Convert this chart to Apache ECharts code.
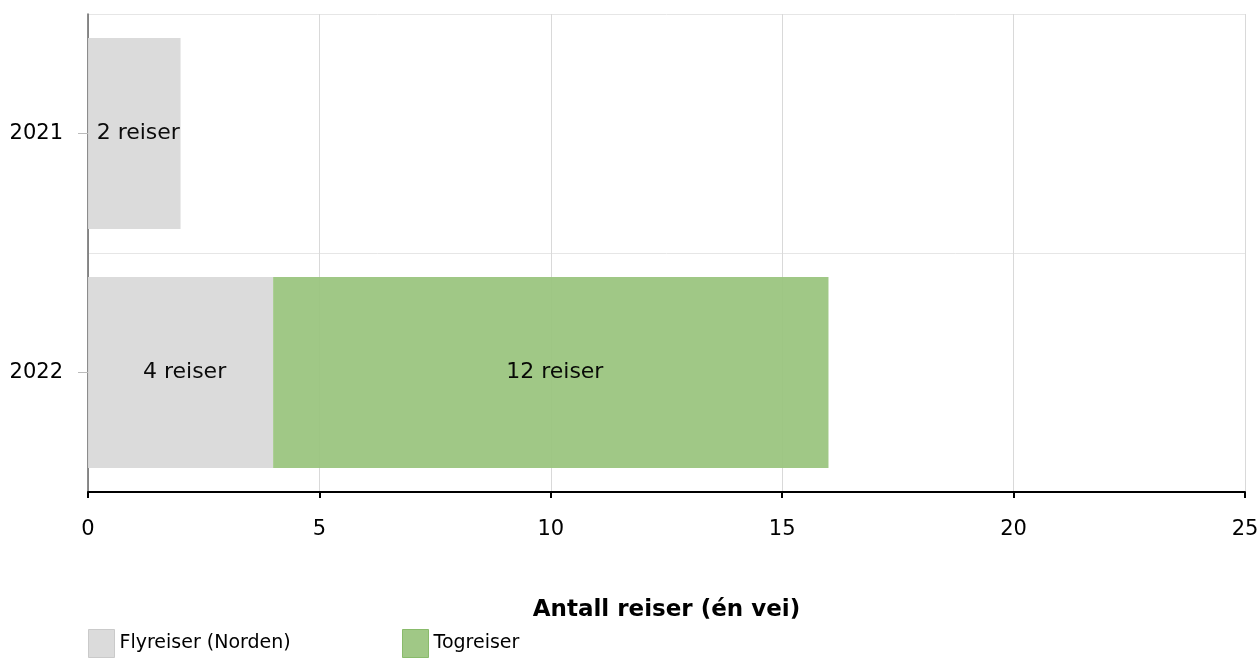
<!DOCTYPE html>
<html><head><meta charset="utf-8">
<script src="https://cdn.jsdelivr.net/npm/echarts@6/dist/echarts.min.js"></script>
<style>html,body{margin:0;padding:0;background:#fff}#c{width:1259px;height:659px}</style>
</head><body><div id="c"></div>
<script>
const categories = ['2021', '2022'];
const seriesNames = ['Flyreiser (Norden)', 'Togreiser'];
const flyreiser = [2, 4];
const togreiser = [0, 12];
const xTicks = [0, 5, 10, 15, 20, 25];
const axisTitle = 'Antall reiser (én vei)';

const FONT = 'DejaVu Sans, Verdana, sans-serif';
const chart = echarts.init(document.getElementById('c'), null, {renderer: 'canvas'});
const lbl = {show: true, position: 'inside', offset: [4, 0], color: '#000', fontFamily: FONT, fontSize: 22,
  formatter: p => p.value > 0 ? p.value + ' reiser' : ''};
chart.setOption({
  animation: false,
  textStyle: {fontFamily: FONT},
  grid: {left: 88, right: 14, top: 14, bottom: 167, containLabel: false, outerBoundsMode: 'none'},
  legend: [
    {data: [{name: seriesNames[0], icon: 'rect', itemStyle: {borderColor: '#c8c8c8', borderWidth: 1}}],
     left: 83, top: 624, itemWidth: 26, itemHeight: 28, itemGap: 8,
     textStyle: {fontSize: 19, color: '#000', fontFamily: FONT}},
    {data: [{name: seriesNames[1], icon: 'rect', itemStyle: {borderColor: '#86b866', borderWidth: 1}}],
     left: 397, top: 624, itemWidth: 26, itemHeight: 28, itemGap: 8,
     textStyle: {fontSize: 19, color: '#000', fontFamily: FONT}}
  ],
  xAxis: {
    type: 'value', min: xTicks[0], max: xTicks[xTicks.length - 1], interval: 5,
    name: axisTitle, nameLocation: 'middle', nameGap: 107,
    nameTextStyle: {fontSize: 23, fontWeight: 'bold', color: '#000', fontFamily: FONT},
    axisLine: {show: true, lineStyle: {color: '#000', width: 2}},
    axisTick: {show: true, length: 6, lineStyle: {color: '#000', width: 2}},
    axisLabel: {fontSize: 21, color: '#000', margin: 27, fontFamily: FONT},
    splitLine: {show: true, lineStyle: {color: '#d9d9d9', width: 1}}
  },
  yAxis: {
    type: 'category', data: categories, inverse: true,
    axisLine: {show: true, lineStyle: {color: '#666', width: 1.5}},
    axisTick: {show: true, alignWithLabel: true, length: 10, lineStyle: {color: '#bbb'}},
    axisLabel: {fontSize: 21, color: '#000', margin: 25, fontFamily: FONT},
    splitLine: {show: true, lineStyle: {color: '#e6e6e6', width: 1}}
  },
  series: [
    {name: seriesNames[0], type: 'bar', stack: 'a', data: flyreiser, barWidth: '80%',
     itemStyle: {color: '#d9d9d9', opacity: 0.95}, label: lbl},
    {name: seriesNames[1], type: 'bar', stack: 'a', data: togreiser, barWidth: '80%',
     itemStyle: {color: '#9bc57f', opacity: 0.95}, label: lbl}
  ]
});
</script></body></html>
